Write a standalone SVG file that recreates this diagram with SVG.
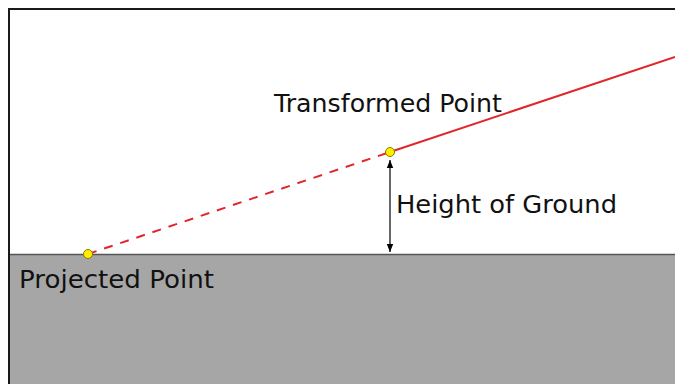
<svg xmlns="http://www.w3.org/2000/svg" width="675" height="384" viewBox="0 0 675 384">
<style>
.lbl{font-family:"DejaVu Sans","Liberation Sans",sans-serif;font-size:24px;fill:#111}
.pt{fill:#ffee00;stroke:#8a7a00;stroke-width:1}
</style>
<defs>
<marker id="ah" viewBox="0 0 10 10" refX="10" refY="5" markerWidth="8" markerHeight="8" markerUnits="userSpaceOnUse" orient="auto-start-reverse">
<path d="M0,1 L10,5 L0,9 Z" fill="#000"/>
</marker>
</defs>
<rect x="0" y="0" width="675" height="384" fill="#fff"/>
<g id="ground">
<rect x="9" y="254" width="666" height="130" fill="#a6a6a6"/>
<line x1="9" y1="254.5" x2="675" y2="254.5" stroke="#555" stroke-width="1.5"/>
</g>
<g id="frame">
<path d="M9,384 V9 H675" fill="none" stroke="#1a1a1a" stroke-width="2"/>
</g>
<g id="connectors">
<line x1="88" y1="254" x2="390" y2="152" stroke="#e0262a" stroke-width="2" stroke-dasharray="9,8"/>
<line x1="390" y1="152" x2="675" y2="57" stroke="#e0262a" stroke-width="2"/>
<line x1="390" y1="160" x2="390" y2="252" stroke="#000" stroke-width="1.2" marker-start="url(#ah)" marker-end="url(#ah)"/>
</g>
<g id="transformed-point">
<circle class="pt" cx="390" cy="152" r="4.5"/>
<text class="lbl" x="274" y="112" textLength="228" lengthAdjust="spacingAndGlyphs">Transformed Point</text>
</g>
<g id="projected-point">
<circle class="pt" cx="88" cy="254" r="4.5"/>
<text class="lbl" x="19" y="288" textLength="195" lengthAdjust="spacingAndGlyphs">Projected Point</text>
</g>
<g id="height-label">
<text class="lbl" x="396" y="213" textLength="221" lengthAdjust="spacingAndGlyphs">Height of Ground</text>
</g>
</svg>
